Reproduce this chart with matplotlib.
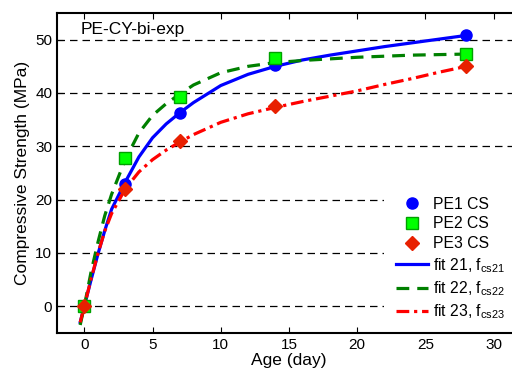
import matplotlib
matplotlib.use("Agg")
import matplotlib.pyplot as plt

plt.rcParams['font.family'] = ['Liberation Sans', 'DejaVu Sans']
plt.rcParams['mathtext.fontset'] = 'custom'
plt.rcParams['mathtext.rm'] = 'Liberation Sans'

# measured data
age = [0, 3, 7, 14, 28]
pe1 = [0, 23.0, 36.3, 45.2, 50.8]
pe2 = [0, 27.9, 39.2, 46.6, 47.4]
pe3 = [0, 22.0, 31.0, 37.5, 45.0]

# fitted curves
fit_t = [-0.3, 0, 0.5, 1, 1.5, 2, 3, 4, 5, 6, 7, 8, 10, 12, 14, 16, 18, 20, 22, 24, 26, 28]
fit21 = [-3.0, 0, 5.0, 9.8, 14.2, 18.2, 23.3, 28.0, 31.6, 34.2, 36.3, 38.2, 41.4, 43.5, 45.0, 46.2, 47.1, 47.9, 48.7, 49.4, 50.1, 50.8]
fit22 = [-3.5, 0, 6.5, 12, 17, 21, 27.5, 32.5, 35.8, 38.0, 39.8, 41.5, 43.8, 45.0, 45.7, 46.1, 46.4, 46.7, 46.9, 47.1, 47.2, 47.3]
fit23 = [-3.0, 0, 5.2, 9.9, 14.1, 17.4, 22, 25.2, 27.5, 29.3, 30.8, 32.2, 34.5, 36.1, 37.3, 38.4, 39.4, 40.4, 41.6, 42.7, 43.9, 45.0]

xticks = [0, 5, 10, 15, 20, 25, 30]
yticks = [0, 10, 20, 30, 40, 50]

fig = plt.figure(figsize=(5.12, 3.74), dpi=100)
ax = fig.add_axes([57/512, 41/374, 464/512, 320/374])

for y in yticks:
    ax.axhline(y, color='black', lw=0.9, ls=(0, (6, 4)), zorder=1)

h1, = ax.plot(age, pe1, 'o', color='blue', mec='blue', ms=8, ls='none', zorder=4, label='PE1 CS')
h2, = ax.plot(age, pe2, 's', color='#00ff00', mec='#00a000', ms=8, ls='none', zorder=4, label='PE2 CS')
h3, = ax.plot(age, pe3, 'D', color='#e82000', mec='#e82000', ms=7, ls='none', zorder=4, label='PE3 CS')
l1, = ax.plot(fit_t, fit21, '-', color='blue', lw=2.3, zorder=3, label=r'fit 21, f$_{\mathrm{cs21}}$')
l2, = ax.plot(fit_t, fit22, '--', color='#008000', lw=2.3, dashes=(4, 2.5), zorder=3, label=r'fit 22, f$_{\mathrm{cs22}}$')
l3, = ax.plot(fit_t, fit23, '-.', color='red', lw=2.3, dashes=(4, 1.5, 1, 1.5), zorder=3, label=r'fit 23, f$_{\mathrm{cs23}}$')

ax.set_xlim(-2, 32)
ax.set_ylim(-5, 55)
ax.set_xticks(xticks)
ax.set_yticks(yticks)
ax.tick_params(direction='in', top=True, right=True, labelsize=11, length=4)
for s in ax.spines.values():
    s.set_linewidth(1.5)

ax.set_xlabel('Age (day)', fontsize=12.5, labelpad=1)
ax.set_ylabel('Compressive Strength (MPa)', fontsize=12.5, labelpad=4)

ax.text(-0.3, 50.5, 'PE-CY-bi-exp', fontsize=12.5, va='bottom', ha='left')

leg = ax.legend(handles=[h1, h2, h3, l1, l2, l3], loc='upper left',
                bbox_to_anchor=(384/512, 1 - 185/374), bbox_transform=fig.transFigure,
                frameon=True, facecolor='white', edgecolor='none', framealpha=1,
                fancybox=False, borderaxespad=0, borderpad=0.75,
                fontsize=11.3, handlelength=2.05, labelspacing=0.3, handletextpad=0.3)
leg.set_zorder(2)

fig.savefig('out.png', dpi=100)
